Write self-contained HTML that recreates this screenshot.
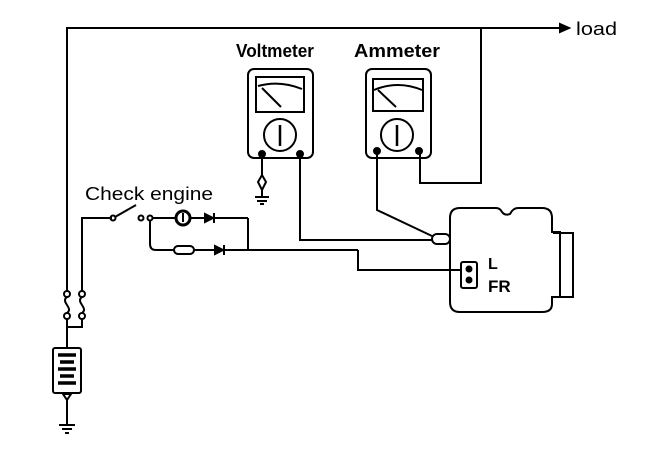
<!DOCTYPE html>
<html><head><style>body{margin:0;background:#fff}svg{display:block}text{font-family:"Liberation Sans",Arial,sans-serif;fill:#000}</style></head>
<body><svg width="672" height="456" viewBox="0 0 672 456" xmlns="http://www.w3.org/2000/svg">
<g fill="none" stroke="#000" stroke-width="2">
<polyline points="67,293 67,28 560,28"/>
<polygon points="560,24 569,28 560,32" fill="#000"/>
<polyline points="420,153 420,183 481,183 481,28"/>
<circle cx="67" cy="294" r="3" fill="#fff"/><circle cx="67" cy="316" r="3" fill="#fff"/>
<circle cx="82" cy="294" r="3" fill="#fff"/><circle cx="82" cy="316" r="3" fill="#fff"/>
<path d="M67,297 C60,302 74,308 67,313"/><path d="M82,297 C75,302 89,308 82,313"/>
<polyline points="67,319 67,348"/><polyline points="82,319 82,327 67,327"/>
<polyline points="82,291 82,218 112,218"/>
<rect x="53" y="348" width="28" height="45" rx="2"/>
<g stroke-width="3.5"><line x1="58" y1="355" x2="76" y2="355"/><line x1="60" y1="362" x2="74" y2="362"/><line x1="58" y1="369" x2="76" y2="369"/><line x1="60" y1="376" x2="74" y2="376"/><line x1="58" y1="383" x2="76" y2="383"/></g>
<polygon points="63,394 71,394 67,400"/>
<line x1="67" y1="400" x2="67" y2="425"/>
<line x1="59" y1="425" x2="75" y2="425"/><line x1="62" y1="429" x2="72" y2="429"/><line x1="65" y1="433" x2="69" y2="433"/>
<circle cx="113" cy="218" r="2.5"/><line x1="115" y1="217" x2="136" y2="205"/>
<circle cx="141" cy="218" r="2.5"/><circle cx="150" cy="218" r="2.5"/>
<line x1="153" y1="218" x2="176" y2="218"/>
<circle cx="183" cy="218" r="7" stroke-width="3"/><line x1="183" y1="213" x2="183" y2="222"/>
<line x1="190" y1="218" x2="248" y2="218"/>
<polygon points="205,214 213,218 205,222" fill="#000"/><line x1="214" y1="213" x2="214" y2="223"/>
<path d="M150,220 L150,244 Q150,250 156,250 L174,250"/>
<rect x="174" y="246" width="20" height="8" rx="4"/>
<line x1="194" y1="250" x2="358" y2="250"/>
<polygon points="215,246 223,250 215,254" fill="#000"/><line x1="224" y1="245" x2="224" y2="255"/>
<line x1="248" y1="218" x2="248" y2="250"/>
<polyline points="358,250 358,270 460,270"/>
<rect x="248" y="69" width="65" height="89" rx="6"/>
<rect x="256" y="77" width="48" height="35"/>
<path d="M258,86 Q280,80 302,89"/><line x1="262" y1="88" x2="281" y2="107"/>
<circle cx="280" cy="135" r="16"/><line x1="280" y1="125" x2="280" y2="146" stroke-width="2.5"/>
<circle cx="262" cy="154" r="3" fill="#000"/><circle cx="300" cy="154" r="3" fill="#000"/>
<line x1="262" y1="154" x2="262" y2="175"/>
<path d="M262,175 L258,182 L262,190 L266,182 Z"/>
<line x1="262" y1="190" x2="262" y2="197"/>
<line x1="255" y1="197" x2="269" y2="197"/><line x1="257" y1="201" x2="267" y2="201"/><line x1="260" y1="204" x2="264" y2="204"/>
<polyline points="300,154 300,240 432,240"/>
<rect x="366" y="69" width="65" height="89" rx="6"/>
<rect x="373" y="79" width="50" height="32"/>
<path d="M374,90 Q398,80 422,90"/><line x1="378" y1="90" x2="396" y2="107"/>
<circle cx="397" cy="135" r="16"/><line x1="397" y1="125" x2="397" y2="146" stroke-width="2.5"/>
<circle cx="377" cy="151" r="3" fill="#000"/><circle cx="419" cy="151" r="3" fill="#000"/>
<polyline points="377,151 377,210 432,236"/>
<path d="M460,208 L496,208 Q500,208 502,212 Q505,216 510,214 Q513,208 518,208 L542,208 Q552,208 552,218 L552,232 L560,232 L560,297 L552,297 L552,304 Q552,312 542,312 L460,312 Q450,312 450,302 L450,218 Q450,208 460,208 Z"/>
<polyline points="553,233 573,233 573,297 553,297"/>
<rect x="432" y="234" width="18" height="10" rx="5"/>
<rect x="461" y="262" width="16" height="26" rx="2"/>
<circle cx="469" cy="269" r="2.5" fill="#000"/><circle cx="469" cy="280" r="2.5" fill="#000"/>
</g>
<text x="576" y="35" font-size="18" textLength="41" lengthAdjust="spacingAndGlyphs">load</text>
<text x="236" y="57" font-size="18" font-weight="bold" textLength="78" lengthAdjust="spacingAndGlyphs">Voltmeter</text>
<text x="354" y="57" font-size="18" font-weight="bold" textLength="86" lengthAdjust="spacingAndGlyphs">Ammeter</text>
<text x="85" y="200" font-size="18" textLength="128" lengthAdjust="spacingAndGlyphs">Check engine</text>
<text x="488" y="269" font-size="16" font-weight="bold">L</text>
<text x="488" y="292" font-size="17" font-weight="bold">FR</text>
</svg></body></html>
